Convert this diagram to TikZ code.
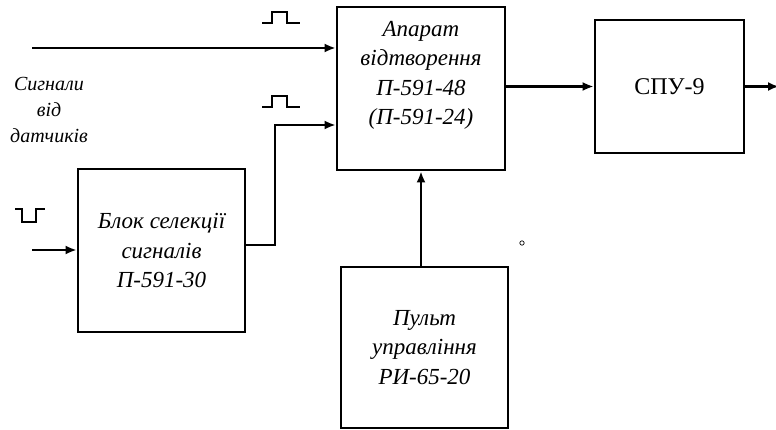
\documentclass[tikz,border=0pt]{standalone}
\usepackage{fontspec}
\setmainfont{Liberation Serif}
\usetikzlibrary{arrows.meta}

\tikzset{
  blok/.style={draw, line width=2.7pt, inner sep=0pt, align=center},
  bloktxt/.style={font=\fontsize{23}{29.5}\selectfont\itshape, align=center},
}

\begin{document}
\begin{tikzpicture}[x=1pt, y=-1pt, line width=2.5pt, >={Latex[length=11pt,width=9pt]}]
        \useasboundingbox (0,0) rectangle (776,430);
        % blocks
        \node[blok, minimum width=168pt, minimum height=163pt,
              label={[bloktxt, yshift=13pt]center:{Апарат\\відтворення\\П-591-48\\(П-591-24)}}]
            (aparat) at (421,88.5) {};
        \node[blok, minimum width=149pt, minimum height=133pt,
              font=\fontsize{24}{29}\selectfont]
            (spu) at (669.5,86.5) {СПУ-9};
        \node[blok, bloktxt, minimum width=167pt, minimum height=163pt]
            (selek) at (161.5,250.5) {Блок селекції\\сигналів\\П-591-30};
        \node[blok, bloktxt, minimum width=167pt, minimum height=161pt]
            (pult) at (424.5,347.5) {Пульт\\управління\\РИ-65-20};
        \node[font=\fontsize{20}{26}\selectfont\itshape, align=center]
            (sygnaly) at (49,110) {Сигнали\\від\\датчиків};
        % connections
        \coordinate (vhid1) at (32,48);
        \coordinate (vhid2) at (32,250);
        \coordinate (izlam) at (275,245);
        \coordinate (vyhid) at (779,86.5);
        \draw[->] (vhid1) -- (aparat.west |- vhid1);
        \draw[->] (vhid2) -- (selek.west |- vhid2);
        \draw[->] (selek.east |- izlam) -- (izlam) -- (izlam |- 0,125) -- (aparat.west |- 0,125);
        \draw[->] (aparat.south |- pult.north) -- (aparat.south);
        \draw[->] (aparat.east |- spu.west) -- (spu.west);
        \draw[->] (spu.east) -- (vyhid);
        % pulses
        \draw[line width=2.3pt]
            (262,23) -- (272,23) -- (272,12) -- (287,12) -- (287,23) -- (300,23);
        \draw[line width=2.3pt]
            (262,107) -- (272,107) -- (272,96) -- (287,96) -- (287,107) -- (300,107);
        \draw[line width=2.3pt]
            (15,209) -- (22,209) -- (22,222) -- (36,222) -- (36,209) -- (45,209);
        \draw[line width=0.7pt] (522,243) circle (2.2pt);
\end{tikzpicture}
\end{document}
